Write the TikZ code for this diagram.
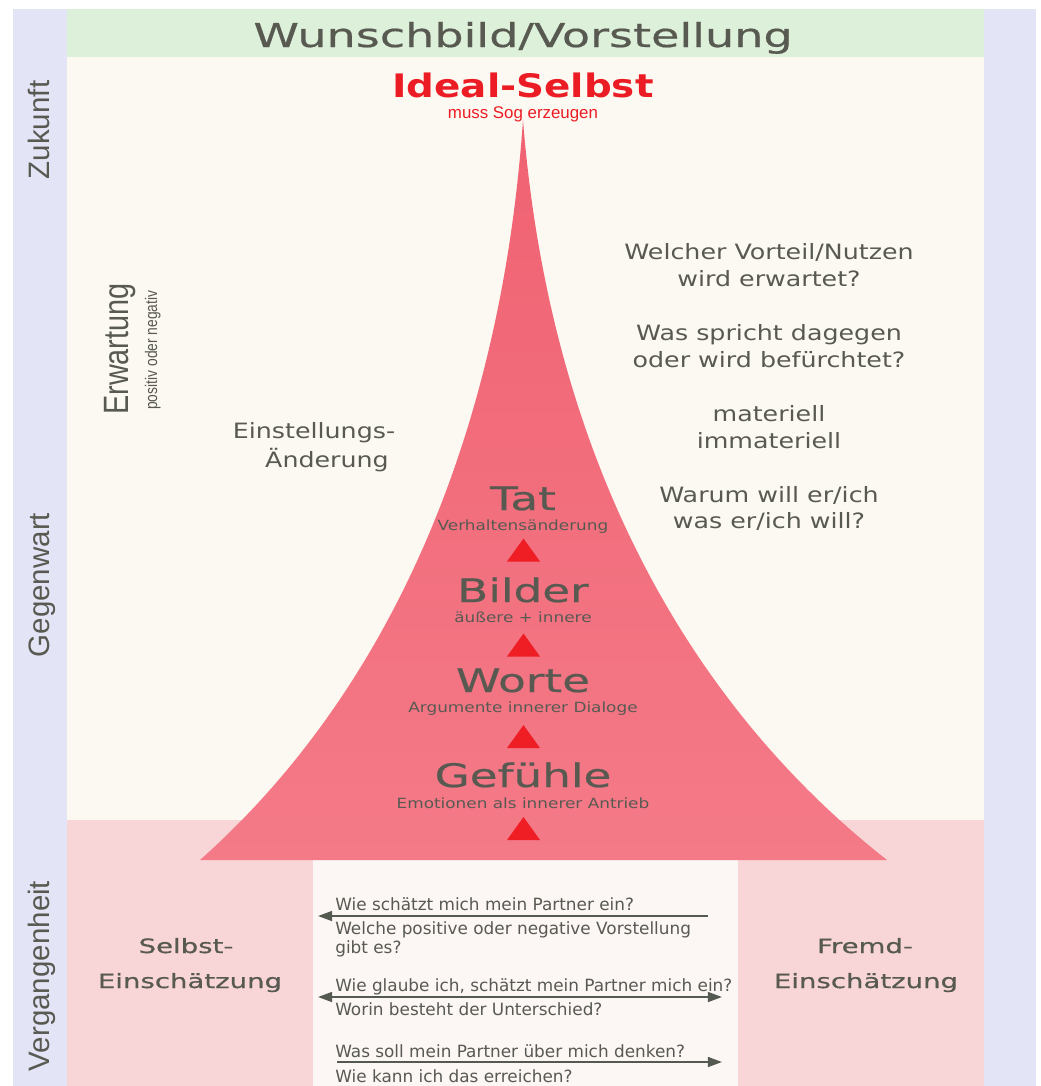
\documentclass[tikz,border=0pt]{standalone}
\usepackage{fontspec}
\setmainfont{Liberation Sans}
\newfontfamily\widef[FakeStretch=1.4,FakeBold=0.6]{DejaVu Sans}
\newfontfamily\idealf[FakeStretch=1.2]{DejaVu Sans}
\newfontfamily\midf[FakeStretch=1.2]{DejaVu Sans}
\newfontfamily\qf{DejaVu Sans}
\newfontfamily\condf[FakeStretch=0.82]{Liberation Sans}
\usetikzlibrary{arrows.meta}
\definecolor{txt}{RGB}{88,90,82}
\definecolor{bluestrip}{RGB}{228,228,247}
\definecolor{greenband}{RGB}{221,241,218}
\definecolor{cream}{RGB}{252,248,242}
\definecolor{pinkblk}{RGB}{248,213,214}
\definecolor{midwhite}{RGB}{252,246,244}
\definecolor{pyrtop}{RGB}{240,98,114}
\definecolor{pyrbot}{RGB}{244,122,136}
\definecolor{redtxt}{RGB}{236,28,36}
\definecolor{trired}{RGB}{238,30,36}
\definecolor{arrowgrey}{RGB}{85,90,80}
\begin{document}
\begin{tikzpicture}[x=0.025cm,y=-0.025cm,
  every node/.style={inner sep=0pt, text=txt},
  title/.style={font=\widef\fontsize{23.4}{28}\selectfont, anchor=base},
  heading/.style={font=\widef\fontsize{23}{27}\selectfont, anchor=base},
  subline/.style={font=\midf\fontsize{10}{12}\selectfont, anchor=base},
  side/.style={font=\midf\fontsize{15}{18}\selectfont, anchor=base},
  selfbox/.style={font=\widef\fontsize{14}{17}\selectfont, anchor=base},
  qtext/.style={font=\qf\fontsize{12}{14}\selectfont, anchor=base west},
  timel/.style={font=\fontsize{21}{24}\selectfont, rotate=90, anchor=base},
  qarrow/.style={draw=arrowgrey, line width=1.4pt}
]
\useasboundingbox (0,0) rectangle (1040,1086);
% backgrounds
\fill[white] (0,0) rectangle (1040,1086);
\fill[bluestrip] (13,9) rectangle (67,1086);
\fill[bluestrip] (984,9) rectangle (1036,1086);
\fill[greenband] (67,9) rectangle (984,57);
\fill[cream] (67,57) rectangle (984,820);
\fill[pinkblk] (67,820) rectangle (313,1086);
\fill[pinkblk] (738,820) rectangle (984,1086);
\fill[midwhite] (313,820) rectangle (738,1086);
% pyramid
\path[top color=pyrtop, bottom color=pyrbot]
  (200,860) .. controls (380,700) and (500,450) .. (523,120)
  .. controls (549,450) and (683,700) .. (887,860) -- cycle;
% triangles
\foreach \yy in {550,645,736.5,828.5}
  \fill[trired] (507,\yy+11.5) -- (523.5,\yy-11.5) -- (540,\yy+11.5) -- cycle;
% header
\node[title] (wunsch) at (523,47) {Wunschbild/Vorstellung};
\node[anchor=base, text=redtxt, font=\idealf\bfseries\fontsize{23}{27}\selectfont] (ideal) at (523,97) {Ideal-Selbst};
\node[anchor=base, text=redtxt, font=\fontsize{12}{14}\selectfont] (sog) at (523,118) {muss Sog erzeugen};
% time labels
\node[timel] (zukunft) at (49,130) {Zukunft};
\node[timel] (gegenwart) at (49,585) {Gegenwart};
\node[timel] (vergangen) at (49,976) {Vergangenheit};
% Erwartung
\node[font=\condf\fontsize{25}{28}\selectfont, rotate=90, anchor=base west] (erw) at (128,415) {Erwartung};
\node[font=\condf\fontsize{12}{14}\selectfont, rotate=90, anchor=base west] (erwsub) at (157,410) {positiv oder negativ};
% Einstellungs-Aenderung
\node[side] (einst) at (314,438) {Einstellungs-};
\node[side] (aend) at (327,467) {Änderung};
% right questions
\node[side] (q1a) at (769,259) {Welcher Vorteil/Nutzen};
\node[side] (q1b) at (769,286) {wird erwartet?};
\node[side] (q2a) at (769,340) {Was spricht dagegen};
\node[side] (q2b) at (769,367) {oder wird befürchtet?};
\node[side] (q3a) at (769,421) {materiell};
\node[side] (q3b) at (769,448) {immateriell};
\node[side] (q4a) at (769,502) {Warum will er/ich};
\node[side] (q4b) at (769,528) {was er/ich will?};
% pyramid labels
\node[heading] (tat) at (523,510) {Tat};
\node[subline] (tatsub) at (523,530) {Verhaltensänderung};
\node[heading] (bilder) at (523,602) {Bilder};
\node[subline] (bildsub) at (523,622) {äußere + innere};
\node[heading] (worte) at (523,692) {Worte};
\node[subline] (wortsub) at (523,712) {Argumente innerer Dialoge};
\node[heading] (gefuehle) at (523,787) {Gefühle};
\node[subline] (gefsub) at (523,808) {Emotionen als innerer Antrieb};
% bottom boxes
\node[selfbox] (selbst1) at (186,953) {Selbst-};
\node[selfbox] (selbst2) at (190,988) {Einschätzung};
\node[selfbox] (fremd1) at (865,953) {Fremd-};
\node[selfbox] (fremd2) at (866,988) {Einschätzung};
% bottom questions
\node[qtext] (b1) at (335,910) {Wie schätzt mich mein Partner ein?};
\node[qtext] (b2) at (335,934) {Welche positive oder negative Vorstellung};
\node[qtext] (b3) at (335,953) {gibt es?};
\node[qtext] (b4) at (335,991) {Wie glaube ich, schätzt mein Partner mich ein?};
\node[qtext] (b5) at (335,1015) {Worin besteht der Unterschied?};
\node[qtext] (b6) at (335,1057) {Was soll mein Partner über mich denken?};
\node[qtext] (b7) at (335,1082) {Wie kann ich das erreichen?};
% arrows
\coordinate (a1s) at (708,916);
\coordinate (a1e) at (318,916);
\coordinate (a2s) at (318,997);
\coordinate (a2e) at (722,997);
\coordinate (a3s) at (337,1062);
\coordinate (a3e) at (722,1062);
\draw[qarrow, -{Triangle[length=10pt,width=7pt]}] (a1s) -- (a1e);
\draw[qarrow, {Triangle[length=10pt,width=7pt]}-{Triangle[length=10pt,width=7pt]}] (a2s) -- (a2e);
\draw[qarrow, -{Triangle[length=10pt,width=7pt]}] (a3s) -- (a3e);
\end{tikzpicture}
\end{document}
